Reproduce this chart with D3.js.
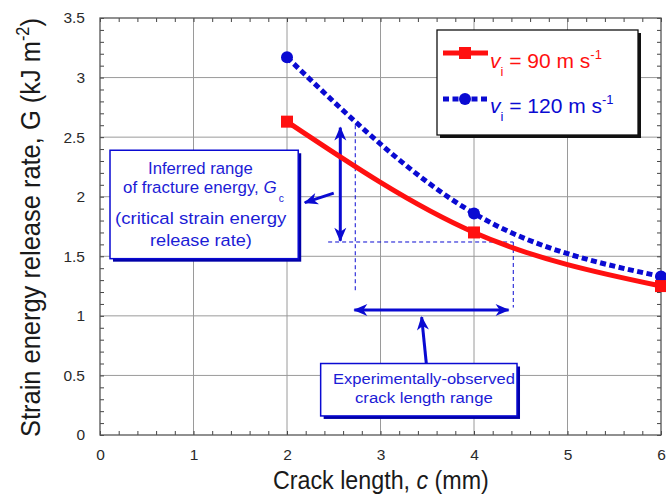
<!DOCTYPE html>
<html><head><meta charset="utf-8">
<script src="https://d3js.org/d3.v7.min.js"></script>
<style>
html,body{margin:0;padding:0;background:#fff;}
svg{display:block;}
</style></head>
<body>
<svg id="chart" width="666" height="496"></svg>
<script>
// ---- data ----
const crackLength = [2, 4, 6];
const g90 = [2.63, 1.70, 1.25];
const g120 = [3.17, 1.86, 1.33];
const xTicks = [0, 1, 2, 3, 4, 5, 6];
const yTicks = [0, 0.5, 1, 1.5, 2, 2.5, 3, 3.5];
const seriesNames = ["90", "120"];

const svg = d3.select("#chart");
const W = 666, H = 496;
const m = {left: 100, right: 5, top: 18, bottom: 61};
const x = d3.scaleLinear().domain([0, 6]).range([m.left, W - m.right]);
const y = d3.scaleLinear().domain([0, 3.5]).range([H - m.bottom, m.top]);

const blue = "#0a0ad2", red = "#ff1010", tblue = "#1c1cd6";
const font = "'Liberation Sans', Arial, sans-serif";

// scale a text element horizontally so its ink box spans [left, right]
function fit(t, left, right) {
  const bb = t.node().getBBox();
  const s = (right - left) / bb.width;
  t.attr("transform", `translate(${left},0) scale(${s},1) translate(${-bb.x},0)`);
}

// grid
const grid = svg.append("g");
grid.selectAll("line.gx").data(xTicks.slice(1, -1)).join("line")
  .attr("x1", d => x(d)).attr("x2", d => x(d)).attr("y1", y(0)).attr("y2", y(3.5))
  .attr("stroke", "#9a9a9a").attr("stroke-width", 1);
grid.selectAll("line.gy").data(yTicks.slice(1, -1)).join("line")
  .attr("y1", d => y(d)).attr("y2", d => y(d)).attr("x1", x(0)).attr("x2", x(6))
  .attr("stroke", "#9a9a9a").attr("stroke-width", 1);

// minor ticks (mirrored)
const xMinor = d3.range(0, 6.001, 0.2);
const yMinor = d3.range(0, 3.501, 0.1);
function styleAxis(g) {
  g.select(".domain").remove();
  g.selectAll(".tick line").attr("stroke", "#444").attr("stroke-width", 1);
  g.selectAll(".tick text").remove();
}
svg.append("g").attr("transform", `translate(0,${y(0)})`)
  .call(d3.axisBottom(x).tickValues(xMinor).tickSize(-4)).call(styleAxis);
svg.append("g").attr("transform", `translate(0,${y(3.5)})`)
  .call(d3.axisTop(x).tickValues(xMinor).tickSize(-4)).call(styleAxis);
svg.append("g").attr("transform", `translate(${x(0)},0)`)
  .call(d3.axisLeft(y).tickValues(yMinor).tickSize(-4)).call(styleAxis);
svg.append("g").attr("transform", `translate(${x(6)},0)`)
  .call(d3.axisRight(y).tickValues(yMinor).tickSize(-4)).call(styleAxis);

// major tick labels
const xa = svg.append("g").attr("transform", `translate(0,${y(0)})`)
  .call(d3.axisBottom(x).tickValues(xTicks).tickSize(0).tickPadding(14).tickFormat(d3.format("")));
xa.select(".domain").remove();
xa.selectAll("text").attr("font-family", font).attr("font-size", 15.5).attr("fill", "#2a2a2a");
const ya = svg.append("g").attr("transform", `translate(${x(0)},0)`)
  .call(d3.axisLeft(y).tickValues(yTicks).tickSize(0).tickPadding(15).tickFormat(d3.format("")));
ya.select(".domain").remove();
ya.selectAll("text").attr("font-family", font).attr("font-size", 15.5).attr("fill", "#2a2a2a");

// frame
svg.append("rect").attr("x", x(0)).attr("y", y(3.5)).attr("width", x(6) - x(0)).attr("height", y(0) - y(3.5))
  .attr("fill", "none").attr("stroke", "#555").attr("stroke-width", 1.3);

// axis titles (narrow sans)
const xt = svg.append("text").attr("x", 0).attr("y", 489)
  .attr("font-family", font).attr("font-size", 26).attr("fill", "#1a1a1a");
xt.append("tspan").text("Crack length, ");
xt.append("tspan").attr("font-style", "italic").text("c");
xt.append("tspan").text(" (mm)");
fit(xt, 273, 489);

const ytg = svg.append("g").attr("transform", `translate(40,437) rotate(-90)`);
const yt = ytg.append("text").attr("x", 0).attr("y", 0)
  .attr("font-family", font).attr("font-size", 28).attr("fill", "#1a1a1a");
yt.append("tspan").text("Strain energy release rate, G (kJ m");
yt.append("tspan").attr("font-size", 18).attr("dy", -11).text("-2");
yt.append("tspan").attr("dy", 11).text(")");
fit(yt, 0, 419);

// ---- annotations (in data units) ----
const defs = svg.append("defs");
defs.append("marker").attr("id", "ah").attr("viewBox", "-14 -7 16 14")
  .attr("refX", 0).attr("refY", 0).attr("markerWidth", 16).attr("markerHeight", 14)
  .attr("markerUnits", "userSpaceOnUse").attr("orient", "auto-start-reverse")
  .append("path").attr("d", "M1,0 L-13,-6 L-9,0 L-13,6 Z").attr("fill", blue);

// dashed guide lines
const guides = [
  [[2.73, 2.6], [2.73, 1.19]],
  [[4.42, 1.62], [4.42, 1.07]],
  [[2.44, 1.62], [4.42, 1.62]]
];
svg.selectAll("line.guide").data(guides).join("line")
  .attr("x1", d => x(d[0][0])).attr("y1", d => y(d[0][1]))
  .attr("x2", d => x(d[1][0])).attr("y2", d => y(d[1][1]))
  .attr("stroke", blue).attr("stroke-width", 1).attr("stroke-dasharray", "4,3");

// arrows: [from, to, doubleHeaded]
const arrows = [
  [[2.57, 2.58], [2.57, 1.63], true],
  [[2.72, 1.05], [4.37, 1.05], true],
  [[3.49, 0.60], [3.44, 0.99], false],
  [[2.50, 2.03], [2.19, 1.95], false]
];
svg.selectAll("line.arrow").data(arrows).join("line")
  .attr("x1", d => x(d[0][0])).attr("y1", d => y(d[0][1]))
  .attr("x2", d => x(d[1][0])).attr("y2", d => y(d[1][1]))
  .attr("stroke", blue).attr("stroke-width", 3)
  .attr("marker-end", "url(#ah)")
  .attr("marker-start", d => d[2] ? "url(#ah)" : null);

// annotation boxes
function annBox(x0, x1, y0, y1) {
  const g = svg.append("g");
  g.append("rect").attr("x", x(x0) + 3).attr("y", y(y0) + 3).attr("width", x(x1) - x(x0)).attr("height", y(y1) - y(y0))
    .attr("fill", "#0000a8");
  g.append("rect").attr("x", x(x0)).attr("y", y(y0)).attr("width", x(x1) - x(x0)).attr("height", y(y1) - y(y0))
    .attr("fill", "#fff").attr("stroke", blue).attr("stroke-width", 1.5);
  return g;
}
function annLine(g, size, yb, left, right, parts) {
  const t = g.append("text").attr("x", 0).attr("y", yb).attr("font-family", font)
    .attr("font-size", size).attr("fill", tblue);
  parts(t);
  fit(t, left, right);
  return t;
}
const b1 = annBox(0.107, 2.12, 2.39, 1.48);
annLine(b1, 16.5, 174, 148, 253, t => t.text("Inferred range"));
annLine(b1, 16.5, 193, 123, 284, t => {
  t.append("tspan").text("of fracture energy, ");
  t.append("tspan").attr("font-style", "italic").text("G");
  t.append("tspan").attr("font-size", 10).attr("dx", 2).attr("dy", 9).text("c");
});
annLine(b1, 17, 224, 115, 287, t => t.text("(critical strain energy"));
annLine(b1, 17, 246, 150, 252, t => t.text("release rate)"));

const b2 = annBox(2.36, 4.46, 0.60, 0.16);
annLine(b2, 15.5, 384, 333, 515, t => t.text("Experimentally-observed"));
annLine(b2, 15.5, 403, 355, 493, t => t.text("crack length range"));

// ---- series ----
const line = d3.line().x(d => x(d[0])).y(d => y(d[1])).curve(d3.curveNatural);
const d90 = crackLength.map((c, i) => [c, g90[i]]);
const d120 = crackLength.map((c, i) => [c, g120[i]]);

svg.append("path").datum(d120).attr("d", line).attr("fill", "none")
  .attr("stroke", blue).attr("stroke-width", 5).attr("stroke-dasharray", "6,3.5");
svg.append("path").datum(d90).attr("d", line).attr("fill", "none")
  .attr("stroke", red).attr("stroke-width", 5);

svg.selectAll("circle.p120").data(d120).join("circle")
  .attr("cx", d => x(d[0])).attr("cy", d => y(d[1])).attr("r", 6).attr("fill", blue);
svg.selectAll("rect.p90").data(d90).join("rect")
  .attr("x", d => x(d[0]) - 6).attr("y", d => y(d[1]) - 6).attr("width", 12).attr("height", 12).attr("fill", red);

// ---- legend ----
const lg = svg.append("g");
lg.append("rect").attr("x", 440).attr("y", 33).attr("width", 201).attr("height", 105).attr("fill", "#111");
lg.append("rect").attr("x", 437).attr("y", 30).attr("width", 201).attr("height", 105)
  .attr("fill", "#fff").attr("stroke", "#111").attr("stroke-width", 1.3);
const legItems = [
  {name: seriesNames[0], color: red, dash: null, marker: "rect", y: 53, base: 67.5},
  {name: seriesNames[1], color: blue, dash: "6,3.5", marker: "circle", y: 99, base: 112.5}
];
legItems.forEach(it => {
  lg.append("line").attr("x1", 443).attr("x2", 488).attr("y1", it.y).attr("y2", it.y)
    .attr("stroke", it.color).attr("stroke-width", 5).attr("stroke-dasharray", it.dash);
  if (it.marker === "rect") lg.append("rect").attr("x", 459).attr("y", it.y - 6).attr("width", 12).attr("height", 12).attr("fill", it.color);
  else lg.append("circle").attr("cx", 465).attr("cy", it.y).attr("r", 6).attr("fill", it.color);
  const t = lg.append("text").attr("x", 490).attr("y", it.base).attr("font-family", font).attr("font-size", 21).attr("fill", it.color);
  t.append("tspan").attr("font-style", "italic").text("v");
  t.append("tspan").attr("font-size", 13).attr("dy", 8).text("i");
  t.append("tspan").attr("dy", -8).text(" = " + it.name + " m s");
  t.append("tspan").attr("font-size", 13).attr("dy", -9).text("-1");
});
</script>
</body></html>
